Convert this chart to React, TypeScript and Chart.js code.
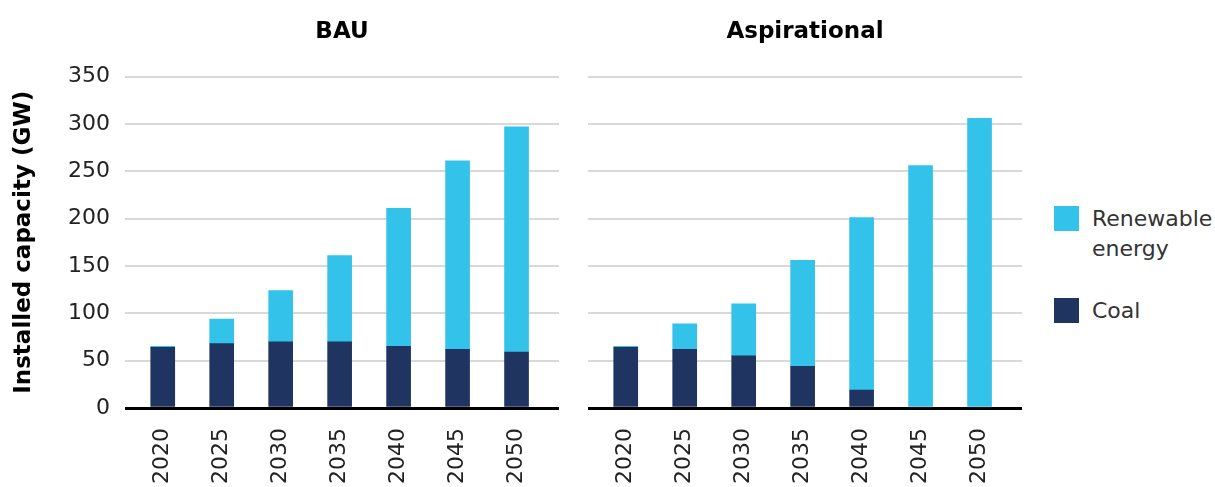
import React, { useEffect, useRef } from "react";
import { Chart, registerables } from "chart.js";

Chart.register(...registerables);

const years = [2020, 2025, 2030, 2035, 2040, 2045, 2050];
const bauCoal = [64, 68, 70, 70, 65, 62, 59];
const bauRenewable = [1, 26, 54, 91, 146, 199, 238];
const aspCoal = [64, 62, 55, 44, 19, 0, 0];
const aspRenewable = [1, 27, 55, 112, 182, 256, 306];
const yTicks = [0, 50, 100, 150, 200, 250, 300, 350];

const COAL = "#1F3461";
const RENEW = "#33C3EA";
const FONT = "'DejaVu Sans', sans-serif";

function makeConfig(title: string, coal: number[], renew: number[], showY: boolean) {
  return {
    type: "bar" as const,
    data: {
      datasets: [
        {
          label: "Coal",
          data: years.map((y, i) => ({ x: y, y: coal[i] })),
          backgroundColor: COAL,
          barThickness: 24,
          stack: "s",
        },
        {
          label: "Renewable energy",
          data: years.map((y, i) => ({ x: y, y: renew[i] })),
          backgroundColor: RENEW,
          barThickness: 24,
          stack: "s",
        },
      ],
    },
    options: {
      animation: false,
      responsive: false,
      maintainAspectRatio: false,
      layout: { padding: { left: 0, right: 6, top: 0, bottom: 0 } },
      plugins: {
        legend: { display: false },
        tooltip: { enabled: false },
        title: {
          display: true,
          text: title,
          fullSize: false,
          color: "#000",
          font: { family: FONT, size: 23, weight: "bold" },
          padding: { top: 18, bottom: 31 },
        },
      },
      scales: {
        x: {
          type: "linear",
          stacked: true,
          offset: false,
          min: 2016.8,
          max: 2053.6,
          afterBuildTicks: (scale: any) => {
            scale.ticks = years.map((v) => ({ value: v }));
          },
          afterFit: (scale: any) => {
            scale.height = 79;
          },
          grid: { display: false, drawTicks: false },
          border: { display: false },
          ticks: {
            autoSkip: false,
            minRotation: 90,
            maxRotation: 90,
            padding: 20,
            color: "#222",
            font: { family: FONT, size: 22 },
            callback: (v: any) => String(v),
          },
        },
        y: {
          stacked: true,
          min: 0,
          max: 350,
          afterBuildTicks: (scale: any) => {
            scale.ticks = yTicks.map((v) => ({ value: v }));
          },
          afterFit: (scale: any) => {
            scale.width = showY ? 125 : 0;
          },
          border: { display: false },
          grid: {
            drawTicks: false,
            color: (ctx: any) => (ctx.tick && ctx.tick.value === 0 ? "#000" : "#d9d9d9"),
            lineWidth: (ctx: any) => (ctx.tick && ctx.tick.value === 0 ? 3 : 2),
          },
          ticks: {
            display: showY,
            padding: 15,
            color: "#222",
            font: { family: FONT, size: 22 },
            callback: (v: any) => String(v),
          },
          title: {
            display: showY,
            text: "Installed capacity (GW)",
            color: "#000",
            font: { family: FONT, size: 23, weight: "bold" },
            padding: { top: 10, bottom: 0 },
          },
        },
      },
    },
  };
}

function Panel(props: { left: number; width: number; title: string; coal: number[]; renew: number[]; showY: boolean }) {
  const ref = useRef<HTMLCanvasElement | null>(null);
  useEffect(() => {
    if (!ref.current) return;
    const chart = new Chart(ref.current, makeConfig(props.title, props.coal, props.renew, props.showY) as any);
    return () => chart.destroy();
  }, []);
  return (
    <canvas
      ref={ref}
      width={props.width}
      height={487}
      style={{ position: "absolute", left: props.left, top: 0, width: props.width, height: 487 }}
    />
  );
}

export default function App() {
  const legendText: React.CSSProperties = {
    position: "absolute",
    left: 1092,
    fontFamily: FONT,
    fontSize: 22,
    lineHeight: "30px",
    color: "#333",
  };
  return (
    <div style={{ position: "absolute", left: 0, top: 0, width: 1215, height: 487, background: "#fff", overflow: "hidden" }}>
      <Panel left={0} width={565} title="BAU" coal={bauCoal} renew={bauRenewable} showY={true} />
      <Panel left={588} width={440} title="Aspirational" coal={aspCoal} renew={aspRenewable} showY={false} />
      <div style={{ position: "absolute", left: 1054, top: 206, width: 25, height: 25, background: RENEW }} />
      <div style={{ ...legendText, top: 204 }}>
        Renewable
        <br />
        energy
      </div>
      <div style={{ position: "absolute", left: 1054, top: 298, width: 25, height: 25, background: COAL }} />
      <div style={{ ...legendText, top: 296 }}>Coal</div>
    </div>
  );
}
